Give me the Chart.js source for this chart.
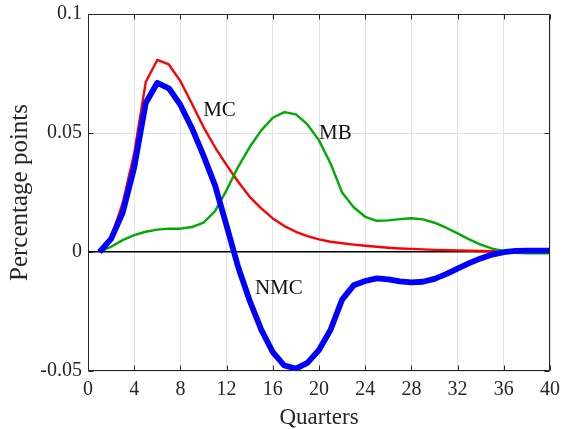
<!DOCTYPE html>
<html><head><meta charset="utf-8">
<script src="https://cdn.jsdelivr.net/npm/chart.js@4/dist/chart.umd.min.js"></script>
<style>html,body{margin:0;padding:0;background:#fff}#wrap{width:564px;height:429px}</style>
</head><body><div id="wrap"><canvas id="c" width="564" height="429"></canvas></div>
<script>
// ---- data ----
const quarters = [1,2,3,4,5,6,7,8,9,10,11,12,13,14,15,16,17,18,19,20,21,22,23,24,25,26,27,28,29,30,31,32,33,34,35,36,37,38,39,40];
const mcValues = [0,0.006,0.0205,0.0415,0.0714,0.0807,0.0788,0.0718,0.0623,0.0525,0.0440,0.0365,0.0295,0.0232,0.0183,0.0141,0.0109,0.0085,0.0067,0.0053,0.0043,0.0037,0.0031,0.0026,0.0022,0.0018,0.0015,0.0013,0.0011,0.0009,0.0008,0.0007,0.0005,0.0004,0.0003,0.0002,0.0002,0.0001,0.0001,0.0001];
const mbValues = [0,0.0022,0.005,0.0071,0.0085,0.0094,0.0098,0.0098,0.0105,0.0123,0.0172,0.026,0.0358,0.0441,0.0511,0.0564,0.0588,0.0578,0.0536,0.0469,0.0372,0.025,0.0188,0.0148,0.0131,0.0133,0.0138,0.0142,0.0137,0.0123,0.0102,0.0078,0.0053,0.0031,0.0014,0.0004,-0.0003,-0.0005,-0.0005,-0.0005];
const nmcValues = [0,0.0055,0.0165,0.0355,0.0626,0.0711,0.0688,0.0618,0.052,0.0405,0.028,0.011,-0.0063,-0.0205,-0.0326,-0.0421,-0.0477,-0.0490,-0.0466,-0.0412,-0.0327,-0.020,-0.014,-0.0122,-0.0111,-0.0115,-0.0123,-0.0128,-0.0125,-0.0113,-0.0093,-0.0070,-0.0047,-0.0027,-0.0011,-0.0001,0.0005,0.0006,0.0006,0.0006];
const seriesNames = ['MC','MB','NMC'];
const xTickValues = [0,4,8,12,16,20,24,28,32,36,40];
const xTickLabels = ['0','4','8','12','16','20','24','28','32','36','40'];
const yTickValues = [-0.05,0,0.05,0.1];
const yTickLabels = ['-0.05','0','0.05','0.1'];
const xTitle = 'Quarters';
const yTitle = 'Percentage points';

// ---- styling / layout ----
const FONT = '"Liberation Serif","Times New Roman",serif';
const INK = '#262626';
const GRID = '#e3e3e3';
const labelSpots = { MC: [9.97, 0.0596], MB: [20.0, 0.0496], NMC: [14.45, -0.0152] };

const toPts = vals => quarters.map((q,i)=>({x:q,y:vals[i]}));

const framePlugin = {
  id: 'frame',
  afterDatasetsDraw(chart) {
    const {ctx, chartArea, scales} = chart;
    const l = Math.round(chartArea.left)+0.5, r = Math.round(chartArea.right)-0.5;
    const t = Math.round(chartArea.top)+0.5, b = Math.round(chartArea.bottom)-0.5;
    ctx.save();
    ctx.strokeStyle = INK; ctx.lineWidth = 1;
    ctx.beginPath();
    ctx.rect(l, t, r-l, b-t);
    const TL = 5;
    xTickValues.forEach(v => {
      const px = Math.round(scales.x.getPixelForValue(v))+0.5;
      ctx.moveTo(px, b); ctx.lineTo(px, b-TL);
      ctx.moveTo(px, t); ctx.lineTo(px, t+TL);
    });
    yTickValues.forEach(v => {
      const py = Math.round(scales.y.getPixelForValue(v))+0.5;
      ctx.moveTo(l, py); ctx.lineTo(l+TL, py);
      ctx.moveTo(r, py); ctx.lineTo(r-TL, py);
    });
    ctx.stroke();
    ctx.fillStyle = '#111';
    ctx.font = '21px ' + FONT;
    ctx.textAlign = 'left'; ctx.textBaseline = 'middle';
    seriesNames.forEach(n => {
      const [dx, dy] = labelSpots[n];
      ctx.fillText(n, scales.x.getPixelForValue(dx), scales.y.getPixelForValue(dy));
    });
    ctx.restore();
  }
};

new Chart(document.getElementById('c'), {
  type: 'line',
  data: {
    datasets: [
      {label: seriesNames[2], data: toPts(nmcValues), borderColor: '#0000ff', borderWidth: 5.8, order: 0},
      {label: seriesNames[1], data: toPts(mbValues), borderColor: '#00aa00', borderWidth: 2.4, order: 1},
      {label: seriesNames[0], data: toPts(mcValues), borderColor: '#ff0000', borderWidth: 2.4, order: 2}
    ]
  },
  options: {
    responsive: false,
    animation: false,
    events: [],
    elements: { point: { radius: 0 }, line: { tension: 0, borderJoinStyle: 'round', borderCapStyle: 'butt', fill: false } },
    layout: { padding: { top: 14, right: 14, left: 0, bottom: 0 } },
    plugins: { legend: { display: false }, tooltip: { enabled: false } },
    scales: {
      x: {
        type: 'linear', min: 0, max: 40,
        afterBuildTicks: s => { s.ticks = xTickValues.map(v => ({value: v})); },
        afterFit: s => { s.height = 58; s.paddingLeft = 0; s.paddingRight = 0; },
        ticks: { color: INK, font: { family: FONT, size: 20, lineHeight: 1.2 }, padding: 7, maxRotation: 0,
                 callback: (v) => xTickLabels[xTickValues.indexOf(v)] },
        grid: { color: GRID, lineWidth: 1, drawTicks: false },
        border: { display: false },
        title: { display: true, text: xTitle, color: INK, font: { family: FONT, size: 23, lineHeight: 1 }, padding: { top: 0, bottom: 0 } }
      },
      y: {
        type: 'linear', min: -0.05, max: 0.1,
        afterBuildTicks: s => { s.ticks = yTickValues.map(v => ({value: v})); },
        afterFit: s => { s.width = 88; s.paddingTop = 0; s.paddingBottom = 0; },
        ticks: { color: INK, font: { family: FONT, size: 20, lineHeight: 1.2 }, padding: 6,
                 callback: (v) => yTickLabels[yTickValues.indexOf(v)] },
        grid: { drawTicks: false,
                color: c => (c.tick && c.tick.value === 0) ? '#000000' : GRID,
                lineWidth: c => (c.tick && c.tick.value === 0) ? 1.6 : 1 },
        border: { display: false },
        title: { display: true, text: yTitle, color: INK, font: { family: FONT, size: 25, lineHeight: 1 }, padding: { top: 8, bottom: 0 } }
      }
    }
  },
  plugins: [framePlugin]
});
</script>
</body></html>
